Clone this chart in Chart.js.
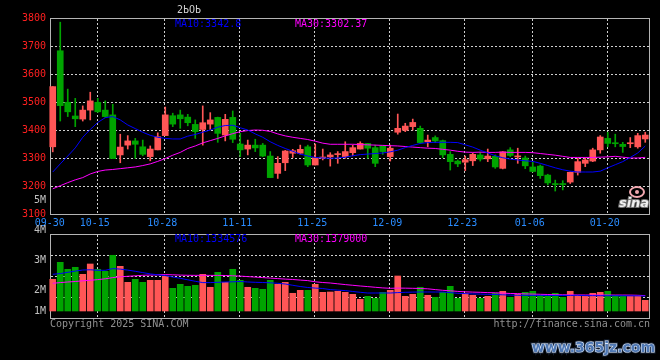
<!DOCTYPE html>
<html><head><meta charset="utf-8">
<script src="https://cdn.jsdelivr.net/npm/chart.js@4.4.1/dist/chart.umd.min.js"></script>
<style>
html,body{margin:0;padding:0;background:#000;width:660px;height:360px;overflow:hidden}
#wrap{position:relative;width:660px;height:360px;background:#000}
canvas{position:absolute;left:0;top:0}
</style></head><body>
<div id="wrap">
<canvas id="price" width="660" height="232"></canvas>
<canvas id="vol" width="660" height="360"></canvas>
</div>
<script>
// ---------- data ----------
const dates = ['09-30','10-08','10-09','10-10','10-11','10-14','10-15','10-16','10-17','10-18',
'10-21','10-22','10-23','10-24','10-25','10-28','10-29','10-30','10-31','11-01',
'11-04','11-05','11-06','11-07','11-08','11-11','11-12','11-13','11-14','11-15',
'11-18','11-19','11-20','11-21','11-22','11-25','11-26','11-27','11-28','11-29',
'12-02','12-03','12-04','12-05','12-06','12-09','12-10','12-11','12-12','12-13',
'12-16','12-17','12-18','12-19','12-20','12-23','12-24','12-25','12-26','12-27',
'12-30','12-31','01-02','01-03','01-06','01-07','01-08','01-09','01-10','01-13',
'01-14','01-15','01-16','01-17','01-20','01-21','01-22','01-23','01-24','01-27'];
const shownDates = ['09-30','10-15','10-28','11-11','11-25','12-09','12-23','01-06','01-20'];

const opens = [3340,3683,3499,3450,3439,3471,3499,3471,3454,3311,
3346,3361,3340,3305,3329,3380,3451,3454,3446,3420,
3402,3421,3445,3382,3445,3350,3332,3346,3346,3307,
3245,3283,3317,3317,3340,3275,3300,3304,3312,3305,
3319,3332,3352,3337,3343,3305,3392,3399,3412,3406,
3358,3373,3362,3313,3289,3285,3290,3311,3297,3306,
3263,3329,3304,3300,3268,3271,3239,3207,3208,3214,
3249,3281,3289,3329,3370,3353,3349,3351,3340,3368];
const closes = [3555,3487,3465,3440,3471,3504,3465,3448,3298,3339,
3361,3349,3313,3332,3376,3454,3421,3440,3426,3394,
3426,3436,3388,3438,3367,3329,3346,3336,3307,3230,
3281,3325,3326,3331,3275,3301,3303,3311,3314,3323,
3337,3352,3335,3281,3323,3335,3406,3414,3427,3355,
3364,3361,3311,3287,3279,3294,3313,3296,3307,3268,
3322,3309,3306,3272,3252,3237,3211,3205,3205,3249,
3287,3293,3329,3375,3352,3351,3341,3353,3380,3382];
const highs = [3555,3785,3546,3513,3486,3535,3513,3504,3492,3385,
3380,3370,3364,3343,3390,3482,3460,3471,3456,3436,
3486,3462,3446,3456,3468,3388,3364,3367,3352,3323,
3305,3327,3331,3346,3346,3350,3332,3319,3323,3358,
3346,3358,3352,3346,3343,3346,3457,3424,3439,3414,
3382,3379,3364,3323,3293,3307,3317,3320,3332,3311,
3323,3337,3335,3307,3285,3275,3242,3221,3219,3250,
3299,3301,3335,3380,3392,3385,3356,3373,3388,3392];
const lows = [3322,3432,3448,3412,3432,3436,3463,3445,3298,3283,
3332,3299,3308,3290,3329,3380,3412,3406,3415,3370,
3346,3402,3356,3361,3355,3305,3311,3323,3305,3230,
3227,3255,3302,3314,3269,3275,3293,3271,3281,3299,
3308,3332,3299,3269,3313,3289,3385,3394,3400,3352,
3340,3355,3301,3257,3269,3255,3273,3289,3287,3263,
3261,3305,3281,3262,3250,3227,3204,3182,3186,3209,
3239,3269,3287,3317,3340,3340,3320,3337,3335,3356];
const ma10 = [3250,3279,3307,3336,3374,3402,3427,3444,3448,3436,
3418,3405,3392,3381,3374,3370,3368,3368,3378,3384,
3392,3400,3410,3416,3417,3408,3400,3386,3374,3358,
3345,3334,3324,3314,3307,3302,3300,3299,3300,3303,
3308,3312,3314,3316,3318,3322,3328,3337,3345,3352,
3355,3356,3356,3356,3355,3347,3339,3328,3318,3308,
3301,3296,3293,3290,3288,3281,3273,3265,3258,3253,
3250,3250,3250,3253,3265,3276,3287,3302,3318,3342.8];
const ma30 = [3190,3201,3212,3222,3230,3243,3252,3257,3259,3262,
3265,3268,3273,3279,3288,3298,3310,3320,3334,3343,
3354,3362,3370,3379,3387,3394,3398,3400,3399,3395,
3386,3379,3374,3370,3366,3360,3353,3349,3349,3349,
3349,3348,3347,3346,3345,3344,3343,3341,3339,3337,
3335,3334,3331,3328,3324,3321,3320,3321,3320,3320,
3321,3320,3320,3320,3319,3316,3313,3310,3306,3302,
3302,3302,3302,3303,3304,3306,3303,3300,3300,3302.37];
const volumes = [2679000,4115000,3524000,3693000,3101000,3972000,3524000,3355000,4707000,3777000,
2425000,2679000,2425000,2594000,2594000,2932000,1918000,2256000,2087000,2172000,
3101000,2003000,3270000,2425000,3524000,2594000,2003000,1918000,1834000,2594000,
2256000,2425000,1496000,1749000,1749000,2256000,1580000,1606000,1665000,1580000,
1411000,989000,1242000,1073000,1580000,1749000,2958000,1242000,1411000,2003000,
1327000,1158000,1580000,2087000,1073000,1496000,1327000,1073000,1242000,1496000,
1665000,1158000,1411000,1580000,1665000,1327000,1242000,1496000,1158000,1665000,
1327000,1242000,1496000,1580000,1665000,1327000,1242000,1242000,1242000,904000];
const volMa10 = [3101000,3160000,3270000,3372000,3465000,3482000,3439000,3439000,3583000,3541000,
3456000,3355000,3245000,3135000,3059000,2991000,2873000,2763000,2636000,2510000,
2400000,2400000,2425000,2451000,2467000,2493000,2451000,2425000,2408000,2383000,
2341000,2282000,2172000,2070000,1986000,1935000,1901000,1808000,1766000,1724000,
1648000,1580000,1521000,1521000,1524000,1521000,1555000,1580000,1597000,1606000,
1606000,1604000,1606000,1555000,1496000,1470000,1445000,1428000,1411000,1394000,
1369000,1344000,1327000,1320000,1318000,1322000,1315000,1310000,1312000,1318000,
1322000,1300000,1296000,1290000,1288000,1292000,1287000,1283000,1279000,1270000];
const volMa30 = [2341000,2400000,2451000,2493000,2552000,2594000,2653000,2721000,2822000,2890000,
2932000,2974000,3017000,3034000,3059000,3076000,3059000,3034000,3017000,3012000,
3015000,3010000,3008000,3000000,2974000,2949000,2907000,2865000,2822000,2780000,
2738000,2696000,2662000,2611000,2569000,2467000,2408000,2366000,2298000,2231000,
2172000,2113000,2062000,2003000,1952000,1918000,1935000,1930000,1918000,1901000,
1876000,1808000,1749000,1707000,1656000,1622000,1597000,1580000,1555000,1538000,
1513000,1479000,1470000,1445000,1428000,1411000,1394000,1377000,1369000,1360000,
1355000,1352000,1350000,1352000,1350000,1348000,1346000,1344000,1327000,1301000];
const priceMin = 3100, priceMax = 3800, priceStep = 100;
const volMin = -591500, volMax = 6506500;
const volAxisLabels = ['4M','3M','2M','1M'];
const priceTitle = '2ЬОЬ';
const maPriceText = ['MA10:3342.8','MA30:3302.37'];
const maVolText = ['MA10:1334576','MA30:1379000'];

// ---------- style ----------
const RED = '#ff5656', GREEN = '#00a400', BLUE = '#0000ff', MAG = '#ff00ff';
const GRID = '#d0d0d0', FRAME = '#b4b4b4';
const MONO = '"DejaVu Sans Mono", monospace';
const candleColors = closes.map((c, i) => c >= opens[i] ? RED : GREEN);
const tickIdx = shownDates.map(d => dates.indexOf(d));

function dotted(ctx, x1, y1, x2, y2) {
  ctx.beginPath(); ctx.moveTo(x1, y1); ctx.lineTo(x2, y2); ctx.stroke();
}
function vGrid(chart) {
  const {ctx, chartArea: a, scales: {x}} = chart;
  tickIdx.forEach(i => {
    if (i === 0) return;
    const px = Math.round(x.getPixelForValue(i)) - 1 + 0.5;
    dotted(ctx, px, a.top + 1, px, a.bottom);
  });
}

const pricePanel = {
  id: 'pricePanel',
  beforeDatasetsDraw(chart) {
    const {ctx, chartArea: a, scales: {y}} = chart;
    ctx.save();
    ctx.lineWidth = 1; ctx.strokeStyle = GRID; ctx.setLineDash([2, 2]);
    for (let v = priceMin + priceStep; v < priceMax; v += priceStep) {
      const py = Math.round(y.getPixelForValue(v)) + 0.5;
      dotted(ctx, a.left + 2, py, a.right, py);
    }
    vGrid(chart);
    ctx.setLineDash([]); ctx.strokeStyle = FRAME;
    ctx.strokeRect(a.left + 1.5, a.top + 0.5, a.right - a.left - 1, a.bottom - a.top);
    ctx.restore();
  },
  afterDraw(chart) {
    const {ctx, chartArea: a} = chart;
    ctx.save();
    ctx.font = '10px ' + MONO; ctx.textBaseline = 'middle'; ctx.textAlign = 'left';
    ctx.fillStyle = '#d0d0d0'; ctx.fillText(priceTitle, 177, 10);
    ctx.fillStyle = BLUE; ctx.fillText(maPriceText[0], 175, 24);
    ctx.fillStyle = MAG; ctx.fillText(maPriceText[1], 295, 24);
    ctx.textAlign = 'right'; ctx.fillStyle = '#c0c0c0';
    ctx.fillText('5M', a.left - 3, 200);
    // sina logo watermark
    ctx.strokeStyle = '#f2a8b0'; ctx.lineWidth = 2;
    ctx.beginPath(); ctx.ellipse(637, 192, 7, 5, 0, 0, Math.PI * 2); ctx.stroke();
    ctx.fillStyle = '#f2a8b0'; ctx.beginPath(); ctx.arc(637, 192, 2, 0, Math.PI * 2); ctx.fill();
    ctx.font = 'italic bold 13px "DejaVu Sans", sans-serif';
    ctx.textAlign = 'center'; ctx.lineWidth = 2; ctx.strokeStyle = '#707070';
    ctx.strokeText('sina', 634, 204); ctx.fillStyle = '#f0f0f0'; ctx.fillText('sina', 634, 204);
    ctx.restore();
  }
};

const volPanel = {
  id: 'volPanel',
  beforeDatasetsDraw(chart) {
    const {ctx, chartArea: a} = chart;
    ctx.save();
    ctx.lineWidth = 1; ctx.strokeStyle = GRID; ctx.setLineDash([2, 2]);
    for (let k = 1; k <= 3; k++) {
      const py = Math.round(a.top + (a.bottom - a.top) * k / 4) + 0.5;
      dotted(ctx, a.left + 2, py, a.right, py);
    }
    vGrid(chart);
    ctx.setLineDash([]); ctx.strokeStyle = FRAME;
    ctx.strokeRect(a.left + 1.5, a.top + 0.5, a.right - a.left - 1, a.bottom - a.top);
    ctx.restore();
  },
  afterDraw(chart) {
    const {ctx, chartArea: a} = chart;
    ctx.save();
    ctx.font = '10px ' + MONO; ctx.textBaseline = 'middle';
    ctx.textAlign = 'right'; ctx.fillStyle = '#c0c0c0';
    const ys = [a.top - 3.5, a.top + 26.5, a.top + 56.5, a.top + 77];
    volAxisLabels.forEach((t, k) => ctx.fillText(t, a.left - 3, ys[k]));
    ctx.textAlign = 'left';
    ctx.fillStyle = BLUE; ctx.fillText(maVolText[0], 175, a.top + 5);
    ctx.fillStyle = MAG; ctx.fillText(maVolText[1], 295, a.top + 5);
    ctx.fillStyle = '#909090';
    ctx.fillText('Copyright 2025 SINA.COM', a.left + 1, a.bottom + 6);
    ctx.textAlign = 'right';
    ctx.fillText('http://finance.sina.com.cn', a.right + 1, a.bottom + 6);
    // site watermark
    ctx.font = 'bold 14px "DejaVu Sans", sans-serif';
    ctx.textBaseline = 'alphabetic';
    ctx.lineWidth = 3; ctx.strokeStyle = '#1c2a40';
    ctx.strokeText('www.365jz.com', 655, 352);
    ctx.lineWidth = 1.2; ctx.strokeStyle = '#dde8f8';
    ctx.strokeText('www.365jz.com', 655, 352);
    ctx.fillStyle = '#4f78b4'; ctx.fillText('www.365jz.com', 655, 352);
    ctx.restore();
  }
};

Chart.defaults.font.family = MONO;
Chart.defaults.font.size = 10;

const common = {
  responsive: false, animation: false, events: [],
  plugins: {legend: {display: false}, tooltip: {enabled: false}}
};

new Chart(document.getElementById('price'), {
  data: {
    labels: dates,
    datasets: [
      {type: 'line', data: ma10, borderColor: BLUE, borderWidth: 1, pointRadius: 0, tension: 0, order: 0},
      {type: 'line', data: ma30, borderColor: MAG, borderWidth: 1, pointRadius: 0, tension: 0, order: 0},
      {type: 'bar', data: opens.map((o, i) => [o, closes[i]]), backgroundColor: candleColors,
       barThickness: 6, minBarLength: 1, grouped: false, borderWidth: 0, order: 1},
      {type: 'bar', data: lows.map((l, i) => [l, highs[i]]), backgroundColor: candleColors,
       barThickness: 1, grouped: false, borderWidth: 0, order: 2}
    ]
  },
  options: Object.assign({}, common, {
    layout: {padding: {top: 18, right: 11, left: 0, bottom: 0}},
    scales: {
      x: {
        type: 'category', offset: true,
        grid: {display: false, drawTicks: false}, border: {display: false},
        ticks: {autoSkip: false, maxRotation: 0, minRotation: 0, color: '#2a8cff', padding: 3, labelOffset: -3,
          font: {family: MONO, size: 10},
          callback: (v, i) => shownDates.includes(dates[i]) ? dates[i] : ''},
        afterFit: s => { s.height = 18; }
      },
      y: {
        min: priceMin, max: priceMax,
        grid: {display: false, drawTicks: false}, border: {display: false},
        ticks: {stepSize: priceStep, color: '#ff2020', padding: 3, font: {family: MONO, size: 10},
          callback: v => String(v)},
        afterFit: s => { s.width = 49; }
      }
    }
  }),
  plugins: [pricePanel]
});

new Chart(document.getElementById('vol'), {
  data: {
    labels: dates,
    datasets: [
      {type: 'line', data: volMa10, borderColor: BLUE, borderWidth: 1, pointRadius: 0, tension: 0, order: 0},
      {type: 'line', data: volMa30, borderColor: MAG, borderWidth: 1, pointRadius: 0, tension: 0, order: 0},
      {type: 'bar', data: volumes, backgroundColor: candleColors, barThickness: 6, grouped: false, borderWidth: 0, order: 1}
    ]
  },
  options: Object.assign({}, common, {
    layout: {padding: {top: 234, right: 11, left: 49, bottom: 42}},
    scales: {
      x: {type: 'category', offset: true, display: false},
      y: {display: false, min: volMin, max: volMax}
    }
  }),
  plugins: [volPanel]
});
</script>
</body></html>
